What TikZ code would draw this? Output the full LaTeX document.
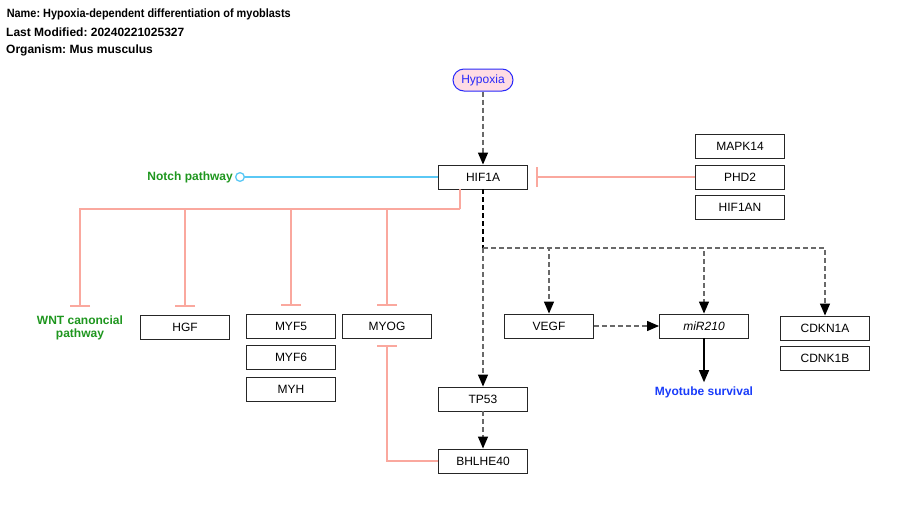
\documentclass[tikz,border=0pt]{standalone}
\usepackage{fontspec}
\setmainfont{Liberation Sans}
\usetikzlibrary{arrows.meta}
\frenchspacing

\definecolor{inhibred}{RGB}{250,168,158}
\definecolor{notchblue}{RGB}{90,200,245}
\definecolor{pathgreen}{RGB}{30,150,30}
\definecolor{pathblue}{RGB}{25,60,250}
\definecolor{hypoxfill}{RGB}{255,220,228}
\definecolor{hypoxblue}{RGB}{40,40,250}
\definecolor{dashgray}{RGB}{105,105,105}

\begin{document}
\begin{tikzpicture}[x=1pt, y=-1pt, font=\fontsize{12}{13}\selectfont,
  gene/.style={draw=black!85, line width=0.9pt, fill=white, minimum width=89pt, minimum height=24pt, inner sep=0pt},
  pathtext/.style={font=\fontsize{12}{13}\selectfont\bfseries, inner sep=0pt},
  inhibit/.style={color=inhibred, line width=1.3pt, -{Bar[width=20pt]}, shorten >=8pt},
  act/.style={draw=dashgray, line width=1.3pt, dash pattern=on 5pt off 3pt, -{Triangle[length=12pt, width=10pt, color=black]}}]

\useasboundingbox (0,0) rectangle (900,504);

% header
\node[pathtext, anchor=west, transform shape, xscale=0.91] (name) at (6.6,14) {Name: Hypoxia-dependent differentiation of myoblasts};
\node[pathtext, anchor=west] (modified) at (6,32) {Last Modified: 20240221025327};
\node[pathtext, anchor=west] (organism) at (6,50) {Organism: Mus musculus};

\node[draw=hypoxblue, line width=1pt, fill=hypoxfill, text=hypoxblue, rounded corners=11pt, minimum width=60pt, minimum height=22pt, inner sep=0pt] (hypoxia) at (483,80) {Hypoxia};

\node[gene] (hif1a) at (483,177) {HIF1A};
\node[gene] (mapk14) at (740,146) {MAPK14};
\node[gene] (phd2) at (740,177) {PHD2};
\node[gene] (hif1an) at (740,207) {HIF1AN};

\node[pathtext, text=pathgreen, anchor=east] (notch) at (233,177) {Notch pathway};
\node[pathtext, text=pathgreen, align=center] (wnt) at (80,328) {WNT canoncial\\pathway};

\node[gene] (hgf) at (185,327) {HGF};
\node[gene] (myf5) at (291,326) {MYF5};
\node[gene] (myf6) at (291,357) {MYF6};
\node[gene] (myh) at (291,389) {MYH};
\node[gene] (myog) at (387,326) {MYOG};

\node[gene] (vegf) at (549,326) {VEGF};
\node[gene] (mir210) at (704,326) {\itshape miR210};
\node[gene] (cdkn1a) at (825,328) {CDKN1A};
\node[gene] (cdnk1b) at (825,358) {CDNK1B};

\node[gene] (tp53) at (483,399) {TP53};
\node[gene] (bhlhe40) at (483,461) {BHLHE40};
\node[pathtext, text=pathblue] (myotube) at (704,392) {Myotube survival};

\coordinate (split) at (460,209);
\coordinate (fork) at (483,248);

\draw[act] (hypoxia) -- (hif1a);
\draw[inhibit, shorten >=8.5pt] (phd2) -- (hif1a);
\draw[color=notchblue, line width=1.3pt, -{Circle[open, length=10pt, fill=white]}, shorten >=2pt] (hif1a) -- (notch);

% inhibition tree
\draw[color=inhibred, line width=1.3pt] (hif1a.south -| split) -- (split);
\draw[inhibit, shorten >=9pt] (split) -| (wnt.north);
\foreach \g in {hgf, myf5, myog}
  \draw[inhibit] (split) -| (\g.north);
\draw[inhibit, shorten >=7pt] (bhlhe40.west) -| (myog.south);

% transcription targets
\draw[black, line width=1.3pt, dash pattern=on 5pt off 3pt] (hif1a.south) -- (fork);
\draw[act] (fork) -- (tp53);
\foreach \g in {vegf, mir210, cdkn1a}
  \draw[act] (fork) -| (\g.north);
\draw[act] (vegf) -- (mir210);
\draw[act] (tp53) -- (bhlhe40);
\draw[line width=1.2pt, -{Triangle[length=12pt, width=10pt]}, shorten >=4pt] (mir210) -- (myotube);

\end{tikzpicture}
\end{document}
